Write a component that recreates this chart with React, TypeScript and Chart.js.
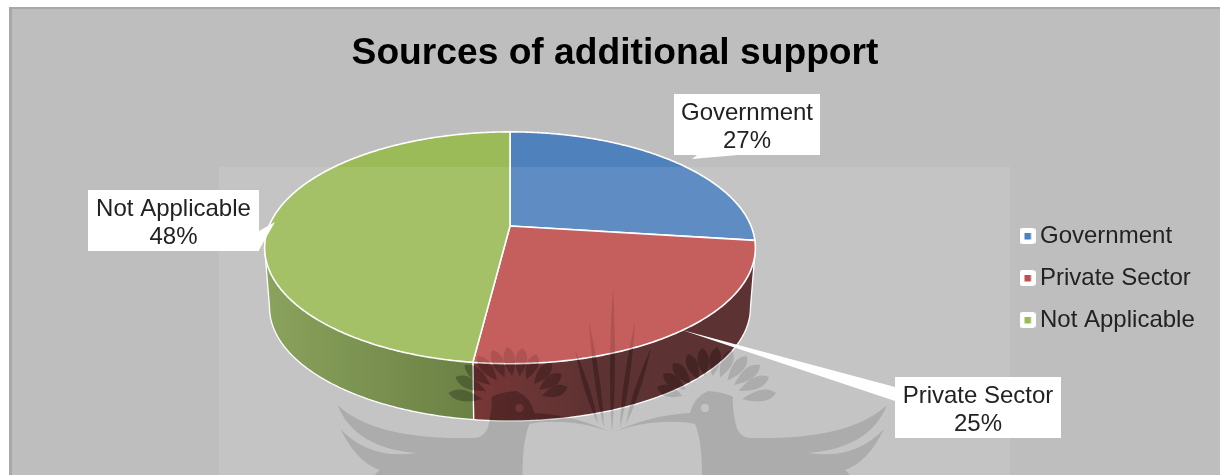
import { useEffect, useRef } from "react";
import { Chart, registerables } from "chart.js";

Chart.register(...registerables);

const categories = ["Government", "Private Sector", "Not Applicable"];
const shares = [27, 25, 48];
const sliceColors = ["#4F81BD", "#C0504D", "#9BBB59"];
const chartTitle = "Sources of additional support";

// Canvas offset within the page
const OFF_X = 10;
const OFF_Y = 8;
const WIDTH = 1210;
const HEIGHT = 467;

// Perspective of the tilted disc
const TILT = 0.464;
const PERSPECTIVE = 0.188;
const WALL_DROP = 60;
const WALL_SHRINK = 0.98;

const LABEL_FONT = "24px 'Liberation Sans', Arial, sans-serif";

// Callout boxes in page pixels: box rectangle and the tail polygon
const callouts = [
  { box: [674, 94, 146, 61], tail: [[697, 155], [692, 159], [738, 155]] },
  { box: [895, 377, 166, 61], tail: [[895, 387], [682, 330], [895, 401]] },
  { box: [88, 190, 171, 61], tail: [[259, 231], [275, 222], [259, 250]] },
];

type Pt = [number, number];

function rimPoint(x: number, y: number, r: number, a: number): Pt {
  const u = Math.cos(a);
  const v = Math.sin(a);
  const w = 1 - PERSPECTIVE * v;
  return [x + (r * u) / w, y + (TILT * r * v) / w];
}

function lowerPoint(x: number, y: number, p: Pt): Pt {
  return [x + WALL_SHRINK * (p[0] - x), y + WALL_SHRINK * (p[1] - y) + WALL_DROP];
}

function sampleAngles(a0: number, a1: number): number[] {
  const out: number[] = [];
  const n = Math.max(2, Math.ceil((a1 - a0) / 0.01));
  for (let i = 0; i <= n; i++) out.push(a0 + ((a1 - a0) * i) / n);
  return out;
}

// Gradients used on the front wall of the disc, in canvas x
function wallFill(ctx: CanvasRenderingContext2D, index: number, cx: number) {
  if (index === 2) {
    const g = ctx.createLinearGradient(cx - 245, 0, cx - 34, 0);
    g.addColorStop(0, "#7f9a4d");
    g.addColorStop(1, "#5c7432");
    return g;
  }
  const g = ctx.createLinearGradient(cx - 34, 0, cx + 245, 0);
  g.addColorStop(0, "#6a2323");
  g.addColorStop(0.4, "#4f1e1e");
  g.addColorStop(1, "#4c1e1e");
  return g;
}

// Outline of the visible wall, kept for the emblem pass that darkens it
let wallOutline: Path2D | null = null;

function drawDisc(chart: any) {
  const ctx: CanvasRenderingContext2D = chart.ctx;
  const arcs = chart.getDatasetMeta(0).data;
  const { x, y, outerRadius: r } = arcs[0];
  // Angles where the rim reaches its widest point: the wall is seen between them
  const frontStart = Math.asin(PERSPECTIVE);
  const frontEnd = Math.PI - frontStart;
  const outline = new Path2D();

  ctx.save();
  arcs.forEach((arc: any, i: number) => {
    const lo = Math.max(arc.startAngle, frontStart);
    const hi = Math.min(arc.endAngle, frontEnd);
    if (hi <= lo) return;
    const top = sampleAngles(lo, hi).map((a) => rimPoint(x, y, r, a));
    const bottom = top.map((p) => lowerPoint(x, y, p));
    const strip = new Path2D();
    top.forEach((p, k) => (k ? strip.lineTo(p[0], p[1]) : strip.moveTo(p[0], p[1])));
    [...bottom].reverse().forEach((p) => strip.lineTo(p[0], p[1]));
    strip.closePath();
    outline.addPath(strip);
    ctx.fillStyle = wallFill(ctx, i, x);
    ctx.fill(strip);
    ctx.strokeStyle = "#ffffff";
    ctx.lineWidth = 1.3;
    ctx.beginPath();
    bottom.forEach((p, k) => (k ? ctx.lineTo(p[0], p[1]) : ctx.moveTo(p[0], p[1])));
    ctx.stroke();
    ctx.beginPath();
    ctx.moveTo(top[0][0], top[0][1]);
    ctx.lineTo(bottom[0][0], bottom[0][1]);
    ctx.moveTo(top[top.length - 1][0], top[top.length - 1][1]);
    ctx.lineTo(bottom[bottom.length - 1][0], bottom[bottom.length - 1][1]);
    ctx.stroke();
  });
  wallOutline = outline;

  arcs.forEach((arc: any) => {
    ctx.beginPath();
    ctx.moveTo(x, y);
    sampleAngles(arc.startAngle, arc.endAngle).forEach((a) => {
      const p = rimPoint(x, y, r, a);
      ctx.lineTo(p[0], p[1]);
    });
    ctx.closePath();
    ctx.fillStyle = arc.options.backgroundColor;
    ctx.fill();
    ctx.strokeStyle = "#ffffff";
    ctx.lineWidth = 1.6;
    ctx.lineJoin = "round";
    ctx.stroke();
  });
  ctx.restore();
}

function leaf(p: Path2D, bx: number, by: number, tx: number, ty: number, w: number, at: number) {
  const dx = tx - bx;
  const dy = ty - by;
  const len = Math.hypot(dx, dy);
  const nx = (-dy / len) * w;
  const ny = (dx / len) * w;
  const mx = bx + dx * at;
  const my = by + dy * at;
  p.moveTo(bx, by);
  p.quadraticCurveTo(mx + nx, my + ny, tx, ty);
  p.quadraticCurveTo(mx - nx, my - ny, bx, by);
}

// Crest emblem printed faintly behind the whole page
function birdPath() {
  const p = new Path2D();
  p.moveTo(612, 433);
  p.quadraticCurveTo(650, 415, 690, 413);
  p.quadraticCurveTo(694, 397, 708, 391);
  p.quadraticCurveTo(724, 392, 733, 397);
  p.quadraticCurveTo(732, 405, 735, 420);
  p.quadraticCurveTo(737, 438, 752, 438);
  p.quadraticCurveTo(850, 440, 887, 405);
  p.quadraticCurveTo(870, 448, 808, 453);
  p.quadraticCurveTo(855, 460, 884, 429);
  p.quadraticCurveTo(868, 462, 845, 470);
  p.lineTo(850, 475);
  p.lineTo(702, 475);
  p.quadraticCurveTo(702, 440, 695, 424);
  p.quadraticCurveTo(680, 420, 650, 423);
  p.quadraticCurveTo(628, 426, 612, 433);
  p.closePath();
  p.moveTo(709, 408);
  p.arc(705, 408, 4, 0, Math.PI * 2, true);
  p.closePath();
  const crest: Pt[] = [
    [657, 387], [663, 374], [673, 363], [688, 354], [702, 348], [717, 347],
    [732, 350], [747, 356], [760, 365], [769, 377], [776, 393],
  ];
  crest.forEach(([tx, ty]) => {
    const bx = 708 + (tx - 708) * 0.5;
    const by = 405 + (ty - 405) * 0.5;
    leaf(p, bx, by, tx, ty, 11.5, 0.7);
  });
  return p;
}

function raysPath() {
  const p = new Path2D();
  const rays: [number, number, number, number][] = [
    [613, 288, 612, 433],
    [589, 322, 604, 428],
    [635, 322, 620, 428],
    [575, 350, 598, 424],
    [651, 348, 626, 424],
  ];
  rays.forEach(([tx, ty, bx, by]) => leaf(p, bx, by, tx, ty, 5, 0.42));
  return p;
}

function drawOverlay(chart: any) {
  const ctx: CanvasRenderingContext2D = chart.ctx;
  ctx.save();
  ctx.translate(-OFF_X, -OFF_Y);

  // Pale page panel over the plot
  ctx.fillStyle = "rgba(255,255,255,0.09)";
  ctx.fillRect(219, 167, 791, 308);

  // Emblem, mirrored about its centre line
  const bird = birdPath();
  const rays = raysPath();
  const paintEmblem = (style: string) => {
    ctx.fillStyle = style;
    ctx.fill(bird);
    ctx.fill(rays);
    ctx.save();
    ctx.transform(-1, 0, 0, 1, 1224.5, 0);
    ctx.fill(bird);
    ctx.restore();
  };
  paintEmblem("rgba(0,0,0,0.12)");
  if (wallOutline) {
    // The emblem reads stronger on the dark wall of the disc
    ctx.save();
    ctx.translate(OFF_X, OFF_Y);
    ctx.clip(wallOutline);
    ctx.translate(-OFF_X, -OFF_Y);
    paintEmblem("rgba(0,0,0,0.14)");
    ctx.restore();
  }

  // Data callouts
  categories.forEach((name, i) => {
    const { box, tail } = callouts[i];
    ctx.fillStyle = "#ffffff";
    ctx.beginPath();
    tail.forEach((pt, k) => (k ? ctx.lineTo(pt[0], pt[1]) : ctx.moveTo(pt[0], pt[1])));
    ctx.closePath();
    ctx.fill();
    ctx.fillRect(box[0], box[1], box[2], box[3]);
    ctx.fillStyle = "#222222";
    ctx.font = LABEL_FONT;
    ctx.textAlign = "center";
    ctx.textBaseline = "middle";
    const mid = box[0] + box[2] / 2;
    ctx.fillText(name, mid, box[1] + 19);
    ctx.fillText(`${shares[i]}%`, mid, box[1] + 47);
  });
  ctx.restore();
}

function legendMarker(color: string) {
  const c = document.createElement("canvas");
  c.width = 16;
  c.height = 16;
  const g = c.getContext("2d")!;
  g.fillStyle = "#ffffff";
  g.beginPath();
  g.roundRect(0, 0, 16, 16, 3);
  g.fill();
  g.fillStyle = color;
  g.fillRect(5, 5, 6.5, 6.5);
  return c;
}

const discPlugin = {
  id: "tiltedDisc",
  afterLayout(chart: any) {
    // Plot area and legend column sit at fixed places in the panel
    const a = chart.chartArea;
    a.left = 0;
    a.right = 1000;
    a.width = 1000;
    a.top = 0;
    a.bottom = 436;
    a.height = 436;
    const lg = chart.legend;
    const h = lg.bottom - lg.top;
    lg.left = 999;
    lg.right = 1210;
    lg.top = 270 - h / 2;
    lg.bottom = 270 + h / 2;
  },
  beforeDatasetDraw(chart: any) {
    drawDisc(chart);
    return false;
  },
  afterDatasetsDraw(chart: any) {
    drawOverlay(chart);
  },
};

export default function App() {
  const ref = useRef<HTMLCanvasElement>(null);

  useEffect(() => {
    const chart = new Chart(ref.current!, {
      type: "pie",
      data: {
        labels: categories,
        datasets: [{ data: shares, backgroundColor: sliceColors, borderWidth: 0 }],
      },
      plugins: [discPlugin],
      options: {
        animation: false,
        responsive: false,
        radius: 241,
        layout: { padding: 0 },
        plugins: {
          tooltip: { enabled: false },
          title: {
            display: true,
            text: chartTitle,
            color: "#000000",
            font: { family: "'Liberation Sans', Arial, sans-serif", size: 37.2, weight: "bold", lineHeight: 1.2 },
            padding: { top: 23, bottom: 0 },
          },
          legend: {
            position: "right",
            labels: {
              color: "#222222",
              font: { family: "'Liberation Sans', Arial, sans-serif", size: 24, lineHeight: 1 },
              padding: 18,
              boxWidth: 1,
              boxHeight: 16,
              usePointStyle: true,
              generateLabels: () =>
                categories.map((text, i) => ({
                  text,
                  fontColor: "#222222",
                  pointStyle: legendMarker(sliceColors[i]),
                  fillStyle: sliceColors[i],
                  strokeStyle: sliceColors[i],
                  lineWidth: 0,
                  hidden: false,
                  index: i,
                })),
            },
          },
        },
      } as any,
    });
    return () => chart.destroy();
  }, []);

  return (
    <div
      style={{
        position: "absolute",
        left: 0,
        top: 0,
        width: 1220,
        height: 475,
        overflow: "hidden",
        background: "#ffffff",
      }}
    >
      <canvas
        ref={ref}
        width={WIDTH}
        height={HEIGHT}
        style={{
          position: "absolute",
          left: OFF_X,
          top: OFF_Y,
          width: WIDTH,
          height: HEIGHT,
          background: "#bebebe",
          display: "block",
        }}
      />
      <div style={{ position: "absolute", left: OFF_X - 1, top: OFF_Y - 1, width: 1211, height: 2, background: "#a8a8a8" }} />
      <div style={{ position: "absolute", left: OFF_X - 1, top: OFF_Y - 1, width: 3, height: 470, background: "#a8a8a8" }} />
    </div>
  );
}
